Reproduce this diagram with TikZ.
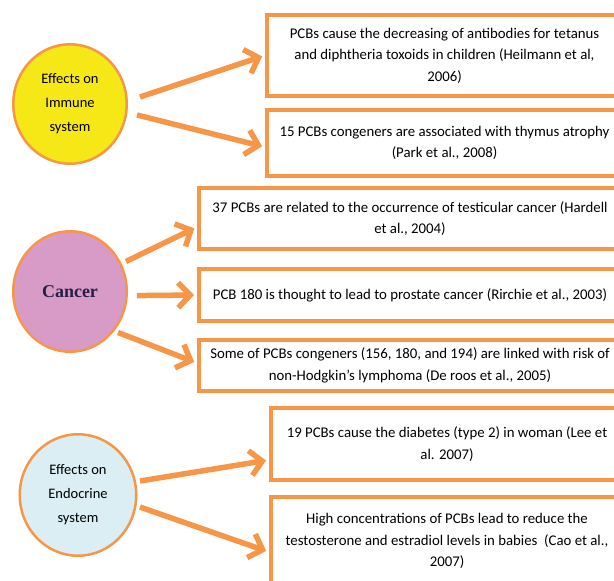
\documentclass[tikz,border=0pt]{standalone}
\usepackage{fontspec}
\setmainfont{Carlito}
\newfontfamily\titleserif{Liberation Serif}
\usepackage{xcolor}
\usetikzlibrary{
    arrows.meta,
    shapes.geometric
}
\definecolor{pcborange}{RGB}{247,150,70}
\definecolor{immuneyellow}{RGB}{245,232,22}
\definecolor{cancerpink}{RGB}{216,155,199}
\definecolor{endocrineblue}{RGB}{219,238,244}
\definecolor{cancernavy}{RGB}{40,30,70}

\begin{document}
\begin{tikzpicture}[x=1pt, y=1pt,
                            effect/.style={ellipse, draw=pcborange, line width=2.5pt, inner sep=0pt, align=center,
                                font=\fontsize{14.5}{24}\selectfont, text=black},
                            finding/.style={draw=pcborange, line width=4pt, inner sep=0pt, align=center,
                                font=\fontsize{14.8}{21.5}\selectfont, text=black},
                            link/.style={draw=pcborange, line width=5.5pt, shorten >=3pt,
                                -{Straight Barb[length=12pt, width=25pt]}}]
                            \useasboundingbox (0, 0) rectangle (614, -581);
                            \clip (0, 0) rectangle (614, -581);

                            \node[effect, fill=immuneyellow, minimum width=113.5pt, minimum height=119.5pt]
                                (immune) at (70, -104) {Effects on\\Immune\\system};
                            \node[effect, fill=cancerpink, minimum width=113.5pt, minimum height=120.5pt,
                                font=\titleserif\bfseries\fontsize{18}{20}\selectfont, text=cancernavy]
                                (cancer) at (70, -291.5) {Cancer};
                            \node[effect, fill=endocrineblue, minimum width=116.5pt, minimum height=121.5pt]
                                (endocrine) at (78, -495) {Effects on\\Endocrine\\system};

                            \node[finding, minimum width=355pt, minimum height=81pt] (antibody) at (444.5, -55.5)
                                {PCBs cause the decreasing of antibodies for tetanus\\and diphtheria toxoids in children (Heilmann et al,\\2006)};
                            \node[finding, minimum width=355pt, minimum height=66pt] (thymus) at (444.5, -143)
                                {15 PCBs congeners are associated with thymus atrophy\\(Park et al., 2008)};
                            \node[finding, minimum width=422pt, minimum height=61pt] (testicular) at (410, -218.5)
                                {37 PCBs are related to the occurrence of testicular cancer (Hardell\\et al., 2004)};
                            \node[finding, minimum width=422pt, minimum height=52pt] (prostate) at (410, -295)
                                {PCB 180 is thought to lead to prostate cancer (Rirchie et al., 2003)};
                            \node[finding, minimum width=422pt, minimum height=51pt] (lymphoma) at (410, -365.5)
                                {Some of PCBs congeners (156, 180, and 194) are linked with risk of\\non-Hodgkin’s lymphoma (De roos et al., 2005)};
                            \node[finding, minimum width=352pt, minimum height=72pt] (diabetes) at (447, -444)
                                {19 PCBs cause the diabetes (type 2) in woman (Lee et\\al. 2007)};
                            \node[finding, minimum width=352pt, minimum height=88pt] (hormone) at (447, -541)
                                {High concentrations of PCBs lead to reduce the\\testosterone and estradiol levels in babies~ (Cao et al.,\\2007)};

                            \draw[link] (immune.center) ++(5.7:70.3) -- (antibody.west);
                            \draw[link] (immune.center) ++(-9.3:67.9) -- ([yshift=-4pt]thymus.west);
                            \draw[link] (cancer.center) ++(28.2:63.5) -- ([yshift=-8.5pt]testicular.west);
                            \draw[link] (cancer.center) ++(-3.5:67) -- (prostate.west);
                            \draw[link] (cancer.center) ++(-40.5:63.1) -- ([yshift=2.5pt]lymphoma.west);
                            \draw[link] (endocrine.center) ++(12.7:63.6) -- ([yshift=-16pt]diabetes.west);
                            \draw[link] (endocrine.center) ++(-11:63.2) -- ([yshift=-11pt]hormone.west);
                        \end{tikzpicture}
\end{document}
